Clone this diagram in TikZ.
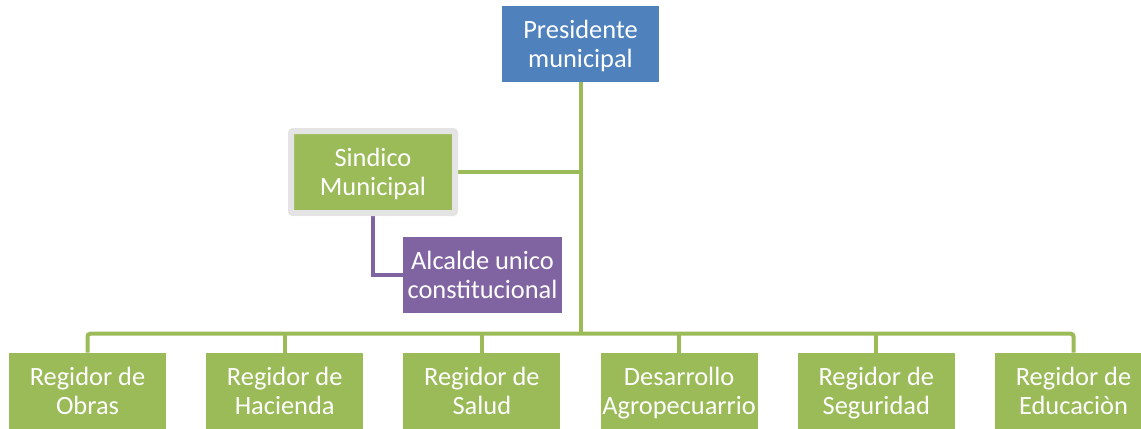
\documentclass[tikz,border=0pt]{standalone}
\usepackage{fontspec}
\setmainfont{Carlito}
\usetikzlibrary{backgrounds}
\definecolor{boxgreen}{HTML}{9BBB59}
\definecolor{boxblue}{HTML}{4F81BD}
\definecolor{boxpurple}{HTML}{8064A2}
\definecolor{framegray}{HTML}{E4E4E4}
\newcommand{\toprule}{\rule{0pt}{19.5pt}}
\begin{document}
\begin{tikzpicture}[x=0.75pt,y=-0.75pt]
      \useasboundingbox (0,0) rectangle (1141,428);

      \begin{scope}[every node/.style={rectangle,fill=boxgreen,text=white,align=center,
          inner sep=0pt,minimum width=117.75pt,minimum height=57pt,
          font=\fontsize{19.8}{21.75}\selectfont}]
        \node[fill=boxblue] (pres) at (580.5,44) {\toprule Presidente\\municipal\strut};
        \node[draw=framegray,line width=4.5pt,rounded corners=1.5pt,
          minimum width=123pt,minimum height=61.5pt] (sind) at (373,172) {\toprule Sindico\\Municipal\strut};
        \node[fill=boxpurple,minimum width=119pt] (alc) at (482.5,275) {\toprule Alcalde unico\\constitucional\strut};
        \node (1) at (87.5,391)   {\toprule Regidor de\\Obras\strut};
        \node (2) at (284.7,391)  {\toprule Regidor de\\Hacienda\strut};
        \node (3) at (481.9,391)  {\toprule Regidor de\\Salud\strut};
        \node (4) at (679.1,391)  {\toprule Desarrollo\\Agropecuarrio\strut};
        \node (5) at (876.3,391)  {\toprule Regidor de\\Seguridad\strut};
        \node (6) at (1073.5,391) {\toprule Regidor de\\Educaciòn\strut};
      \end{scope}

      \coordinate (bus) at (580.5,334);

      \begin{scope}[on background layer]
        \begin{scope}[boxgreen,line width=3pt]
          \draw (pres) -- (bus);
          \draw (sind.east) -- (sind.east -| pres.south);
          \draw[rounded corners=2pt] (1.north) -- ++(0,-19) -| (6.north);
          \foreach \i in {2,...,5}
            \draw (\i.north) -- ++(0,-19);
        \end{scope}
        \draw[boxpurple,line width=3pt] (sind.south) |- (alc.west);
      \end{scope}

    \end{tikzpicture}
\end{document}
